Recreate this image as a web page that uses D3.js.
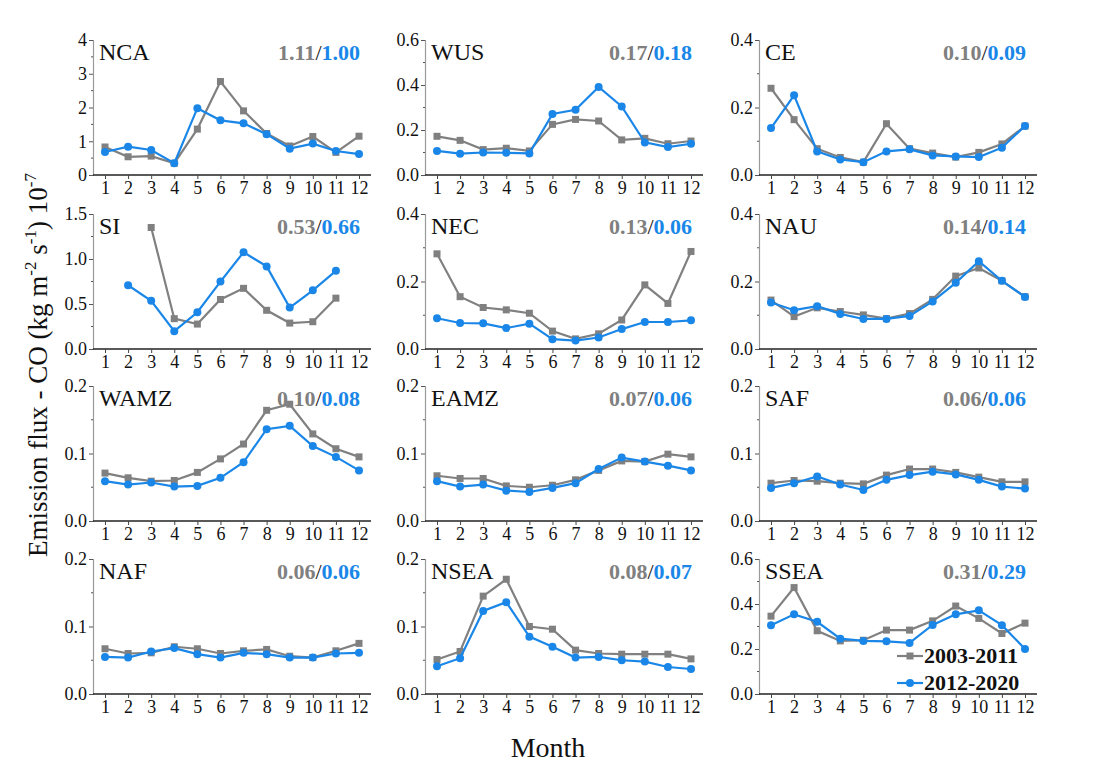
<!DOCTYPE html>
<html>
<head>
<meta charset="utf-8">
<script src="https://cdn.jsdelivr.net/npm/d3@7"></script>
<style>
  body { margin: 0; background: #fff; }
  svg, svg text { font-family: "Liberation Serif", "DejaVu Serif", serif; }
</style>
</head>
<body>
<div id="chart"></div>
<script>
// Monthly CO emission flux per region, two periods
const months = [1, 2, 3, 4, 5, 6, 7, 8, 9, 10, 11, 12];
const regions = ["NCA", "WUS", "CE", "SI", "NEC", "NAU", "WAMZ", "EAMZ", "SAF", "NAF", "NSEA", "SSEA"];
const yMax = [4, 0.6, 0.4, 1.5, 0.4, 0.4, 0.2, 0.2, 0.2, 0.2, 0.2, 0.6];
const yStep = [1, 0.2, 0.2, 0.5, 0.2, 0.2, 0.1, 0.1, 0.1, 0.1, 0.1, 0.2];
const mean0311 = ["1.11", "0.17", "0.10", "0.53", "0.13", "0.14", "0.10", "0.07", "0.06", "0.06", "0.08", "0.31"];
const mean1220 = ["1.00", "0.18", "0.09", "0.66", "0.06", "0.14", "0.08", "0.06", "0.06", "0.06", "0.07", "0.29"];
const periods = ["2003-2011", "2012-2020"];

const flux0311 = [
  [0.83, 0.54, 0.56, 0.35, 1.36, 2.77, 1.90, 1.23, 0.86, 1.14, 0.67, 1.15],
  [0.172, 0.154, 0.113, 0.119, 0.107, 0.225, 0.247, 0.240, 0.156, 0.163, 0.139, 0.151],
  [0.257, 0.164, 0.078, 0.052, 0.038, 0.152, 0.078, 0.065, 0.053, 0.067, 0.092, 0.145],
  [null, null, 1.35, 0.337, 0.277, 0.55, 0.674, 0.43, 0.288, 0.303, 0.565, null],
  [0.282, 0.155, 0.123, 0.116, 0.106, 0.053, 0.030, 0.045, 0.086, 0.190, 0.135, 0.289],
  [0.145, 0.096, 0.122, 0.111, 0.101, 0.090, 0.105, 0.147, 0.216, 0.240, 0.202, 0.155],
  [0.071, 0.064, 0.059, 0.060, 0.072, 0.092, 0.114, 0.164, 0.173, 0.129, 0.107, 0.095],
  [0.067, 0.063, 0.063, 0.052, 0.050, 0.053, 0.061, 0.075, 0.089, 0.088, 0.099, 0.095],
  [0.056, 0.060, 0.059, 0.056, 0.055, 0.068, 0.077, 0.077, 0.072, 0.065, 0.058, 0.058],
  [0.067, 0.060, 0.061, 0.070, 0.067, 0.060, 0.064, 0.066, 0.056, 0.054, 0.064, 0.075],
  [0.051, 0.063, 0.145, 0.170, 0.100, 0.096, 0.065, 0.060, 0.059, 0.059, 0.059, 0.052],
  [0.346, 0.473, 0.281, 0.236, 0.239, 0.284, 0.284, 0.325, 0.391, 0.336, 0.269, 0.315]
];
const flux1220 = [
  [0.68, 0.84, 0.74, 0.35, 1.98, 1.62, 1.53, 1.21, 0.78, 0.93, 0.71, 0.62],
  [0.107, 0.095, 0.100, 0.099, 0.096, 0.271, 0.290, 0.391, 0.305, 0.145, 0.124, 0.139],
  [0.139, 0.236, 0.070, 0.046, 0.038, 0.070, 0.076, 0.058, 0.055, 0.053, 0.081, 0.145],
  [null, 0.708, 0.535, 0.198, 0.408, 0.749, 1.075, 0.918, 0.46, 0.652, 0.869, null],
  [0.091, 0.077, 0.076, 0.062, 0.075, 0.029, 0.025, 0.034, 0.059, 0.080, 0.080, 0.085],
  [0.138, 0.115, 0.127, 0.104, 0.089, 0.089, 0.098, 0.141, 0.196, 0.260, 0.202, 0.154],
  [0.059, 0.054, 0.057, 0.051, 0.052, 0.064, 0.087, 0.136, 0.141, 0.111, 0.095, 0.075],
  [0.059, 0.051, 0.054, 0.045, 0.043, 0.049, 0.056, 0.077, 0.094, 0.088, 0.082, 0.075],
  [0.049, 0.056, 0.066, 0.054, 0.046, 0.061, 0.068, 0.073, 0.069, 0.061, 0.051, 0.048],
  [0.055, 0.054, 0.063, 0.068, 0.059, 0.054, 0.061, 0.059, 0.054, 0.054, 0.060, 0.061],
  [0.041, 0.053, 0.123, 0.136, 0.085, 0.070, 0.054, 0.055, 0.050, 0.048, 0.040, 0.037],
  [0.306, 0.354, 0.321, 0.246, 0.236, 0.234, 0.227, 0.307, 0.354, 0.372, 0.306, 0.200]
];

const width = 1103, height = 780;
const colLeft = [93, 425, 759];
const rowTop = [40, 214, 386, 559];
const panelW = 278, panelH = 135;
const grayC = "#808080", blueC = "#1a87e8";

const svg = d3.select("#chart").append("svg")
    .attr("width", width)
    .attr("height", height);

regions.forEach((name, i) => {
    const left = colLeft[i % 3];
    const top = rowTop[Math.floor(i / 3)];
    const g = svg.append("g").attr("transform", `translate(${left},${top})`);

    const x = d3.scaleLinear().domain([1, 12]).range([12, 266]);
    const y = d3.scaleLinear().domain([0, yMax[i]]).range([panelH, 0]);

    // y axis: major + minor ticks
    const majors = d3.range(0, yMax[i] + yStep[i] / 2, yStep[i]);
    const minors = d3.range(yStep[i] / 2, yMax[i], yStep[i]);
    const fmt = yStep[i] >= 1 ? d3.format("d") : d3.format(".1f");
    const yAxis = g.append("g")
        .call(d3.axisLeft(y).tickValues(majors).tickFormat(fmt).tickSize(4).tickPadding(2));
    yAxis.attr("font-family", null).attr("font-size", null);
    yAxis.select(".domain").attr("stroke", "#9a9a9a").attr("stroke-width", 1.2);
    yAxis.selectAll(".tick line").attr("stroke", "#555");
    yAxis.selectAll(".tick text").style("font-size", "18px").attr("fill", "#111");
    g.append("g").selectAll("line").data(minors).join("line")
        .attr("x1", -2).attr("x2", 0)
        .attr("y1", d => y(d)).attr("y2", d => y(d))
        .attr("stroke", "#555");

    // x axis
    const xAxis = g.append("g")
        .attr("transform", `translate(0,${panelH})`)
        .call(d3.axisBottom(x).tickValues(months).tickFormat(d3.format("d")).tickSize(4).tickPadding(2));
    xAxis.attr("font-family", null).attr("font-size", null);
    xAxis.select(".domain").attr("d", `M0,0H${panelW}`).attr("stroke", "#222").attr("stroke-width", 1.3);
    xAxis.selectAll(".tick line").attr("stroke", "#444");
    xAxis.selectAll(".tick text").style("font-size", "18px").attr("fill", "#111");

    // region name and period means
    g.append("text")
        .attr("x", 6).attr("y", 20)
        .style("font-size", "24px").attr("fill", "#111")
        .text(name);
    const meanText = g.append("text")
        .attr("x", 267).attr("y", 20)
        .attr("text-anchor", "end")
        .style("font-size", "22px").attr("font-weight", "bold");
    meanText.append("tspan").attr("fill", grayC).text(mean0311[i]);
    meanText.append("tspan").attr("fill", "#111").attr("font-weight", "normal").text("/");
    meanText.append("tspan").attr("fill", blueC).text(mean1220[i]);

    const line = d3.line()
        .defined(d => d != null)
        .x((d, k) => x(months[k]))
        .y(d => y(d));

    // 2003-2011 series: gray squares
    g.append("path")
        .datum(flux0311[i])
        .attr("d", line)
        .attr("fill", "none").attr("stroke", grayC).attr("stroke-width", 2.2);
    g.append("g").selectAll("rect")
        .data(months.filter((m, k) => flux0311[i][k] != null))
        .join("rect")
        .attr("x", m => x(m) - 3.5).attr("y", m => y(flux0311[i][m - 1]) - 3.5)
        .attr("width", 7).attr("height", 7)
        .attr("fill", grayC);

    // 2012-2020 series: blue circles
    g.append("path")
        .datum(flux1220[i])
        .attr("d", line)
        .attr("fill", "none").attr("stroke", blueC).attr("stroke-width", 2.2);
    g.append("g").selectAll("circle")
        .data(months.filter((m, k) => flux1220[i][k] != null))
        .join("circle")
        .attr("cx", m => x(m)).attr("cy", m => y(flux1220[i][m - 1]))
        .attr("r", 4)
        .attr("fill", blueC);

    // legend in last panel
    if (i === regions.length - 1) {
        const lg = g.append("g");
        [grayC, blueC].forEach((c, k) => {
            const ly = 97 + k * 27;
            lg.append("line")
                .attr("x1", 138).attr("x2", 164)
                .attr("y1", ly).attr("y2", ly)
                .attr("stroke", c).attr("stroke-width", 2.2);
            if (k === 0) {
                lg.append("rect").attr("x", 147.5).attr("y", ly - 3.5)
                    .attr("width", 7).attr("height", 7).attr("fill", c);
            } else {
                lg.append("circle").attr("cx", 151).attr("cy", ly)
                    .attr("r", 4).attr("fill", c);
            }
            lg.append("text")
                .attr("x", 165).attr("y", ly + 7)
                .style("font-size", "22px").attr("font-weight", "bold").attr("fill", "#111")
                .text(periods[k]);
        });
    }
});

// axis titles
const yTitle = svg.append("text")
    .attr("transform", "translate(47,365) rotate(-90)")
    .attr("text-anchor", "middle")
    .style("font-size", "27px").attr("fill", "#111");
yTitle.append("tspan").text("Emission flux - CO (kg m");
yTitle.append("tspan").style("font-size", "17px").attr("dy", -11).text("-2");
yTitle.append("tspan").attr("dy", 11).text(" s");
yTitle.append("tspan").style("font-size", "17px").attr("dy", -11).text("-1");
yTitle.append("tspan").attr("dy", 11).text(") 10");
yTitle.append("tspan").style("font-size", "17px").attr("dy", -11).text("-7");

svg.append("text")
    .attr("x", 548).attr("y", 757)
    .attr("text-anchor", "middle")
    .style("font-size", "28px").attr("fill", "#111")
    .text("Month");
</script>
</body>
</html>
